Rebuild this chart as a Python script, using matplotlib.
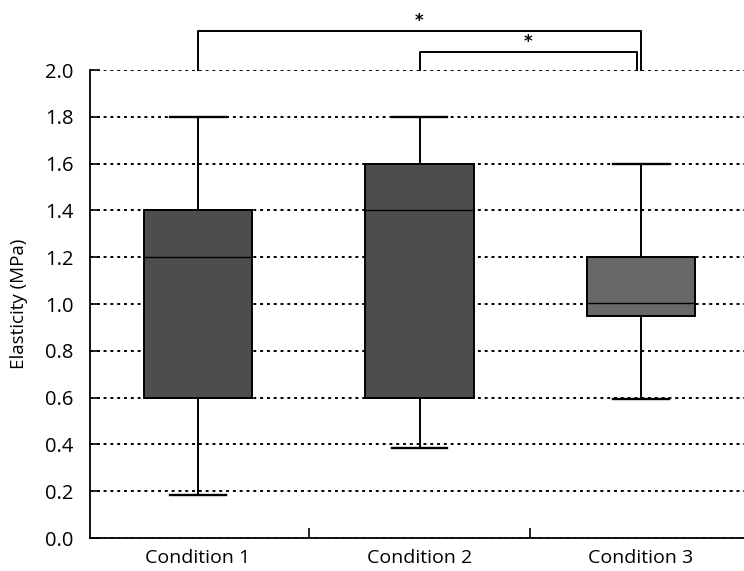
import matplotlib
matplotlib.use('Agg')
import matplotlib.pyplot as plt

# ---- data ----
conditions = ['Condition 1', 'Condition 2', 'Condition 3']
whisk_lo = [0.185, 0.385, 0.595]
q1       = [0.60, 0.60, 0.95]
median   = [1.20, 1.40, 1.005]
q3       = [1.40, 1.60, 1.20]
whisk_hi = [1.80, 1.80, 1.60]
box_colors = ['#4d4d4d', '#4d4d4d', '#686868']

# significance brackets: (from, to, height, label)
brackets = [(0, 2, 2.165, '*'), (1, 1.98, 2.075, '*')]

plt.rcParams['font.family'] = ['Open Sans', 'DejaVu Sans']

fig = plt.figure(figsize=(7.44, 5.71), dpi=100)
ax = fig.add_axes([90/744, 33/571, 654/744, 468/571])

stats = []
for i, c in enumerate(conditions):
    stats.append({'label': c, 'whislo': whisk_lo[i], 'q1': q1[i], 'med': median[i],
                  'q3': q3[i], 'whishi': whisk_hi[i], 'fliers': []})

bp = ax.bxp(stats, positions=range(len(conditions)), widths=0.49, capwidths=0.25,
            patch_artist=True, showfliers=False,
            boxprops=dict(edgecolor='black', linewidth=1.4),
            medianprops=dict(color='black', linewidth=1.0),
            whiskerprops=dict(color='black', linewidth=1.4),
            capprops=dict(color='black', linewidth=1.7))
for patch, col in zip(bp['boxes'], box_colors):
    patch.set_facecolor(col)
    patch.set_zorder(3)
for k in ('whiskers', 'caps', 'medians'):
    for ln in bp[k]:
        ln.set_zorder(4)

# gridlines
ax.set_ylim(0, 2.0)
ax.set_yticks([i * 0.2 for i in range(11)])
ax.set_yticklabels([f'{i * 0.2:.1f}' for i in range(11)])
ax.yaxis.grid(True, linestyle=(0, (1.5, 2.0)), color='black', linewidth=1.4, zorder=0)
ax.set_axisbelow(True)

ax.set_xlim(-0.4876, 2.465)
ax.set_xticks(range(len(conditions)))
ax.set_xticklabels(conditions, fontsize=14)
ax.set_xticks([0.5, 1.5], minor=True)
ax.tick_params(axis='x', which='major', length=0, pad=8)
ax.tick_params(axis='x', which='minor', direction='in', length=7, width=1.2)
ax.tick_params(axis='y', direction='in', length=7, width=1.2, labelsize=14.5, pad=12)

for s in ('top', 'right'):
    ax.spines[s].set_visible(False)
ax.spines['left'].set_linewidth(1.3)
ax.spines['bottom'].set_linewidth(1.3)

ax.set_ylabel('Elasticity (MPa)', fontsize=13.5, labelpad=12)

for x0, x1, h, lab in brackets:
    ax.plot([x0, x0, x1, x1], [2.0, h, h, 2.0], color='black', linewidth=1.4,
            clip_on=False, zorder=5)
    ax.text((x0 + x1) / 2, h + 0.008, lab, ha='center', va='bottom',
            fontsize=12, fontweight='bold', family='DejaVu Sans')

fig.savefig('out.png', dpi=100)
